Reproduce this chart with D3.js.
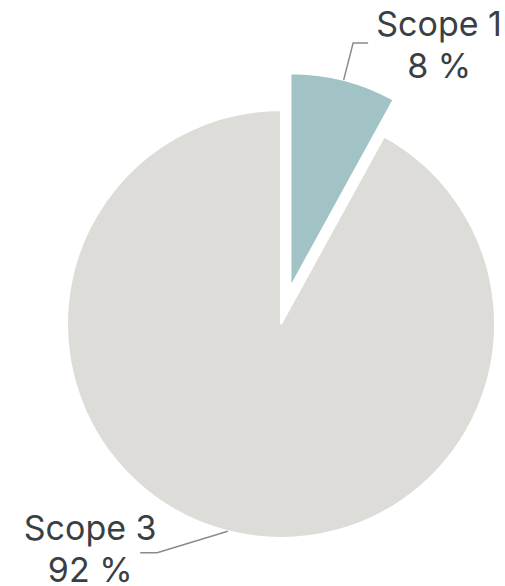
<!DOCTYPE html>
<html>
<head>
<meta charset="utf-8">
<script src="https://cdn.jsdelivr.net/npm/d3@7"></script>
<style>
  body { margin: 0; background: #fff; }
  text { font-family: Inter, "Noto Sans", sans-serif; }
</style>
</head>
<body>
<div id="chart"></div>
<script>
// --- Data ---
const labels = ["Scope 1", "Scope 3"];
const values = [8, 92];
const colors = ["#a2c3c5", "#dddcd8"];

// --- Size ---
const width = 505, height = 586;
const cx = 281, cy = 324, radius = 214;
const explode = 38; // offset of the pulled out slice

const svg = d3.select("#chart")
  .append("svg")
    .attr("width", width)
    .attr("height", height);

const g = svg.append("g")
  .attr("transform", `translate(${cx},${cy})`);

const pie = d3.pie().sort(null).value(d => d.value);
const arcs = pie(labels.map((l, i) => ({ label: l, value: values[i], color: colors[i] })));

const arc = d3.arc().innerRadius(0).outerRadius(radius);
const mid = d => (d.startAngle + d.endAngle) / 2;
const polar = (a, r) => [Math.sin(a) * r, -Math.cos(a) * r];

// only the small slice is pulled out
const offset = (d, i) => i === 0 ? polar(mid(d), explode) : [0, 0];

// --- Slices ---
g.selectAll("path.slice")
  .data(arcs)
  .enter()
  .append("path")
    .attr("class", "slice")
    .attr("d", arc)
    .attr("fill", d => d.data.color)
    .attr("stroke", "#fff")
    .attr("stroke-width", 2)
    .attr("transform", (d, i) => `translate(${offset(d, i)})`);

// --- Leader lines + labels ---
// elbow: angle shift and radius of the bend, run: horizontal length, text: anchor from line end
const leader = [
  { shift: 0, r: 252, run: 15, tx: 71, ty: -7 },
  { shift: 0.245, r: 260, run: -17, tx: -50, ty: -13 }
];

arcs.forEach((d, i) => {
  const o = offset(d, i);
  const a = mid(d);
  const p0 = polar(a, radius);
  const p1 = polar(a + leader[i].shift, leader[i].r);
  const start = [p0[0] + o[0], p0[1] + o[1]];
  const bend = [p1[0] + o[0], p1[1] + o[1]];
  const end = [bend[0] + leader[i].run, bend[1]];

  g.append("path")
    .attr("d", d3.line()([start, bend, end]))
    .attr("fill", "none")
    .attr("stroke", "#8a8a8a")
    .attr("stroke-width", 1.5);

  const t = g.append("text")
    .attr("x", end[0] + leader[i].tx)
    .attr("y", end[1] + leader[i].ty)
    .attr("text-anchor", "middle")
    .attr("fill", "#3a3f44")
    .style("font-size", "34px");
  t.append("tspan")
    .attr("x", end[0] + leader[i].tx)
    .text(d.data.label);
  t.append("tspan")
    .attr("x", end[0] + leader[i].tx)
    .attr("dy", 42)
    .text(`${d.data.value} %`);
});
</script>
</body>
</html>
